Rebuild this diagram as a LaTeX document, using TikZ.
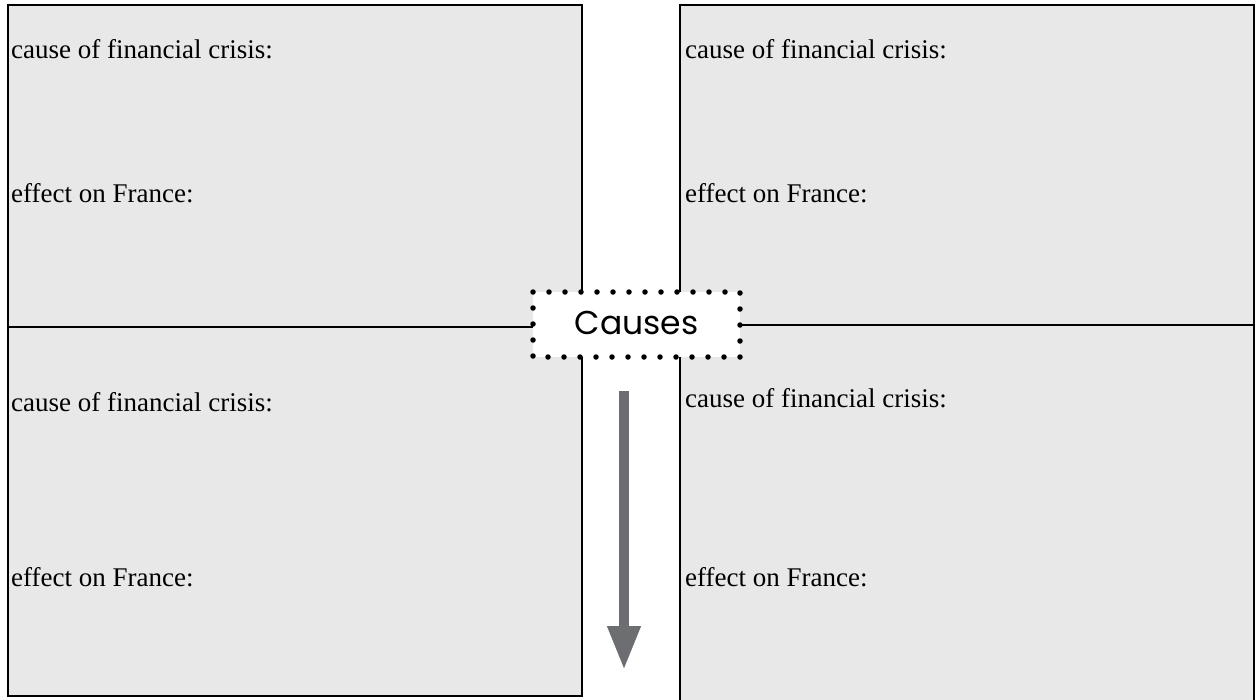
\documentclass[tikz,border=0pt]{standalone}
\usepackage{fontspec}
\setmainfont{Liberation Serif}
\newfontfamily\causefont{Poppins}
\usetikzlibrary{arrows.meta}
\definecolor{boxgray}{HTML}{E8E8E8}
\definecolor{arrowgray}{HTML}{6D6E71}

\begin{document}
\begin{tikzpicture}[x=1pt,y=-1pt,
  field/.style={anchor=base west,inner sep=0pt,font=\fontsize{27}{31}\selectfont},
  quad/.style={fill=boxgray,draw=black,line width=2.8pt}]
\useasboundingbox (0,0) rectangle (1258,699);
\filldraw[quad] (8,5) rectangle (582,327); % top left
\filldraw[quad] (8,327) rectangle (582,696); % bottom left
\filldraw[quad] (680,5) rectangle (1254,325); % top right
\filldraw[quad] (680,325) rectangle (1254,703); % bottom right
\node[field] (tlcause) at (11,58) {cause of financial crisis:};
\node[field] (tleffect) at (11,202) {effect on France:};
\node[field] (blcause) at (11,411) {cause of financial crisis:};
\node[field] (bleffect) at (11,586) {effect on France:};
\node[field] (trcause) at (685,58) {cause of financial crisis:};
\node[field] (treffect) at (685,202) {effect on France:};
\node[field] (brcause) at (685,407) {cause of financial crisis:};
\node[field] (breffect) at (685,586) {effect on France:};
\filldraw[fill=white,line width=5.5pt,line cap=round,dash pattern=on 0pt off 16pt] (533,292) rectangle (740,357);
\node (causes) at (636.5,323) {\causefont\fontsize{33}{36}\selectfont Causes};
\coordinate (arrtop) at (624,391);
\coordinate (arrbot) at (624,670);
\draw[arrowgray,line width=10pt,-{Triangle[width=31pt,length=44pt]}] (arrtop) -- (arrbot);
\end{tikzpicture}
\end{document}
